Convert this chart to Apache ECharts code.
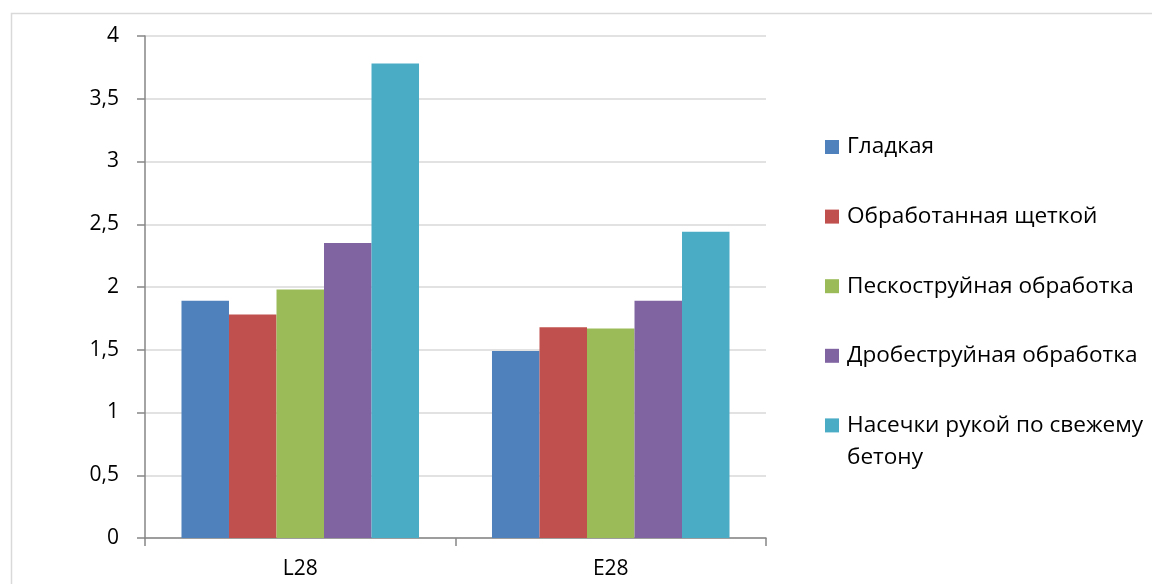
<!DOCTYPE html>
<html>
<head>
<meta charset="utf-8">
<style>
  html, body { margin: 0; padding: 0; background: #ffffff; }
  #chart { width: 1152px; height: 584px; }
</style>
<script src="https://cdn.jsdelivr.net/npm/echarts@6/dist/echarts.min.js"></script>
</head>
<body>
<div id="chart"></div>
<script>
// Categories on the x axis
const categories = ['L28', 'E28'];

// Surface treatment series (one value per category)
const seriesNames = [
  'Гладкая',
  'Обработанная щеткой',
  'Пескоструйная обработка',
  'Дробеструйная обработка',
  'Насечки рукой по свежему бетону'
];
const smoothValues = [1.89, 1.49];
const brushedValues = [1.78, 1.68];
const sandblastValues = [1.98, 1.67];
const shotblastValues = [2.35, 1.89];
const notchedValues = [3.78, 2.44];

// Y axis range
const yMin = 0;
const yMax = 4;
const yStep = 0.5;

const seriesValues = [smoothValues, brushedValues, sandblastValues, shotblastValues, notchedValues];
const seriesColors = ['#4F81BD', '#C0504D', '#9BBB59', '#8064A2', '#4BACC6'];

const fontFamily = '"Open Sans", "Noto Sans", sans-serif';
const axisGray = '#868686';
const legendLine = 32;

const chart = echarts.init(document.getElementById('chart'));

chart.setOption({
  animation: false,
  backgroundColor: '#ffffff',
  graphic: [{
    type: 'rect',
    left: 9,
    top: 11,
    shape: { width: 1200, height: 640 },
    style: { fill: 'none', stroke: '#d9d9d9', lineWidth: 1.5 },
    silent: true
  }],
  grid: { left: 145, right: 386, top: 36, bottom: 46, containLabel: false },
  legend: {
    orient: 'vertical',
    left: 820,
    top: 94,
    padding: 5,
    icon: 'rect',
    itemWidth: 14,
    itemHeight: 14,
    // every label is a three-line block (blank, name, continuation) so the
    // swatch lines up with the first text line; the negative gap restores spacing
    itemGap: 69.6 - 3 * legendLine,
    selectedMode: false,
    data: seriesNames,
    formatter: function (name) {
      const parts = name.replace('свежему ', 'свежему\n').split('\n');
      return '\n' + parts[0] + '\n' + (parts[1] || '');
    },
    textStyle: {
      fontFamily: fontFamily,
      fontSize: 22.6,
      color: '#000000',
      lineHeight: legendLine,
      padding: [0, 0, 0, 3]
    }
  },
  xAxis: {
    type: 'category',
    data: categories,
    axisLine: { lineStyle: { color: axisGray, width: 1.5 } },
    axisTick: { show: true, length: 8, lineStyle: { color: axisGray, width: 1.5 } },
    axisLabel: { fontFamily: fontFamily, fontSize: 21, color: '#000000', margin: 21 }
  },
  yAxis: {
    type: 'value',
    min: yMin,
    max: yMax,
    interval: yStep,
    axisLine: { show: true, lineStyle: { color: axisGray, width: 1.5 } },
    axisTick: { show: true, length: 8, lineStyle: { color: axisGray, width: 1.5 } },
    splitLine: { lineStyle: { color: '#d9d9d9', width: 1.5 } },
    axisLabel: {
      fontFamily: fontFamily,
      fontSize: 21,
      color: '#000000',
      margin: 26,
      formatter: function (v) { return String(v).replace('.', ','); }
    }
  },
  series: seriesNames.map((name, i) => ({
    name: name,
    type: 'bar',
    data: seriesValues[i],
    barGap: '0%',
    barCategoryGap: '23.5%',
    itemStyle: { color: seriesColors[i] }
  }))
});
</script>
</body>
</html>
